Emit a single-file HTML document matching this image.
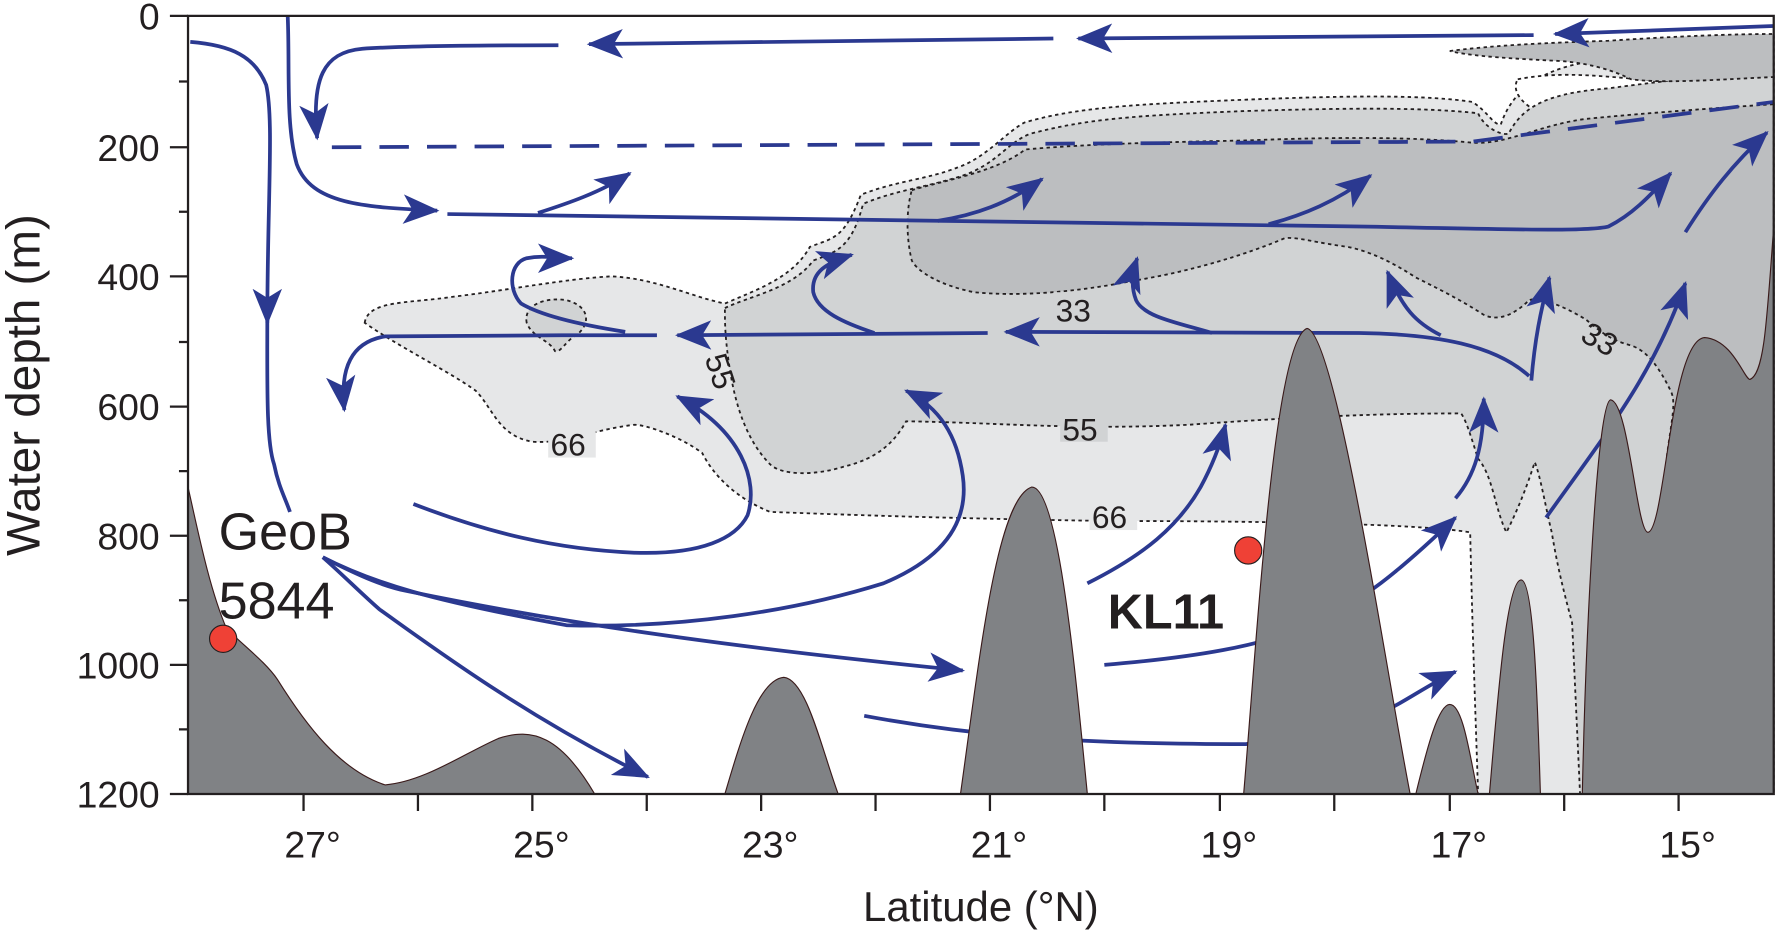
<!DOCTYPE html>
<html><head><meta charset="utf-8"><style>
html,body{margin:0;padding:0;background:#fff;}
svg{display:block;}
text{font-family:"Liberation Sans",sans-serif;fill:#231f20;}
</style></head><body>
<svg width="1776" height="931" viewBox="0 0 1568 822" preserveAspectRatio="none" xmlns="http://www.w3.org/2000/svg">
<defs>
<marker id="ah" markerUnits="userSpaceOnUse" markerWidth="34" markerHeight="26" viewBox="0 0 34 26" refX="30" refY="13" orient="auto">
<path d="M0,0 L32,13 L0,26 L8,13 Z" fill="#2b3990"/>
</marker>
</defs>
<g stroke="#231f20" stroke-width="1.6" stroke-dasharray="3,3">
<path d="M322,285 C325,265 360,268 400,262 C450,256 500,246 540,244 C580,246 610,262 640,268 C670,255 700,245 715,218 C735,210 745,212 760,172 C790,160 820,158 845,148 C870,140 890,115 905,108 C950,95 1000,92 1100,88 C1200,84 1260,84 1300,90 C1315,100 1318,110 1325,110 C1335,80 1360,62 1400,55 C1440,48 1500,36 1566,32 L1566,701 L1305,701 C1303,640 1300,560 1298,470 C1250,462 1100,460 980,460 C850,458 760,455 680,452 C650,440 630,420 620,400 C600,385 570,375 560,375 C520,380 500,392 470,390 C440,385 435,360 420,345 C400,330 350,305 322,285 Z" fill="#e6e7e8"/>
<path d="M1340,70 C1380,62 1420,68 1470,72 C1500,78 1520,90 1490,105 C1460,112 1400,110 1360,100 C1340,90 1335,78 1340,70 Z" fill="#fff"/>
<path d="M640,272 C660,262 700,255 718,230 C740,222 752,218 762,180 C790,168 820,165 850,155 C880,145 890,125 910,118 C960,105 1000,102 1100,98 C1200,95 1260,95 1305,100 C1310,112 1325,120 1332,118 C1345,92 1370,82 1420,78 C1480,70 1530,65 1566,62 L1566,701 L1395,701 L1388,550 C1380,520 1375,500 1370,470 C1365,450 1360,420 1355,408 C1348,430 1340,450 1330,470 C1320,450 1318,420 1305,405 C1300,390 1295,372 1290,365 C1200,365 1120,370 1050,375 C950,380 880,373 800,372 C790,390 775,405 745,412 C720,420 690,420 680,410 C660,390 650,360 645,330 C640,300 640,285 640,272 Z" fill="#d1d3d4"/>
<path d="M465,285 C462,270 480,262 500,265 C520,270 522,285 510,295 C500,300 495,312 490,310 C485,300 470,298 465,285 Z" fill="#d1d3d4"/>
<path d="M805,168 C830,160 880,152 905,132 C950,128 1000,126 1100,124 C1200,120 1260,122 1300,126 C1330,128 1360,110 1400,105 C1450,100 1520,95 1566,92 L1566,701 L1440,701 L1472,400 C1476,370 1480,355 1475,345 C1465,325 1455,310 1440,305 C1420,300 1410,290 1400,282 C1380,270 1360,262 1350,265 C1340,275 1325,285 1310,278 C1290,265 1270,255 1250,245 C1230,232 1210,222 1190,218 C1160,214 1150,210 1135,210 C1100,225 1050,240 1000,248 C950,258 900,262 860,258 C830,252 810,240 805,230 C800,210 800,185 805,168 Z" fill="#bcbec0"/>
<path d="M1280,45 C1320,40 1360,38 1420,36 C1480,32 1530,30 1566,30 L1566,68 C1520,70 1470,74 1440,70 C1420,60 1400,56 1380,54 C1340,52 1300,50 1280,45 Z" fill="#bcbec0"/>
</g>
<g font-size="28">
<rect x="484" y="376" width="42" height="28" fill="#e6e7e8"/><text x="486" y="402">66</text>
<rect x="936" y="362" width="42" height="28" fill="#d1d3d4"/><text x="938" y="389">55</text>
<rect x="962" y="440" width="42" height="28" fill="#e6e7e8"/><text x="964" y="466">66</text>
<rect x="930" y="258" width="42" height="28" fill="#d1d3d4"/><text x="932" y="284">33</text>
<text x="0" y="0" transform="translate(622,316) rotate(72)">55</text>
<text x="0" y="0" transform="translate(1394,300) rotate(30)">33</text>
</g>
<g fill="none" stroke="#2b3990" stroke-width="3.3">
<path d="M1566,23 L1373,30" marker-end="url(#ah)"/>
<path d="M1354,31 L952,34" marker-end="url(#ah)"/>
<path d="M930,34 L520,39" marker-end="url(#ah)"/>
<path d="M493,40 C420,40 350,41 320,43 C285,46 275,70 280,122" marker-end="url(#ah)"/>
<path d="M293,130 L1300,125 L1566,90" stroke-dasharray="26,16"/>
<path d="M168,37 C205,40 225,50 235,75 C242,105 236,180 236,285" marker-end="url(#ah)"/>
<path d="M236,280 C236,340 235,390 242,410 C246,430 252,440 256,452"/>
<path d="M254,14 C256,60 252,110 262,145 C275,180 320,183 386,186" marker-end="url(#ah)"/>
<path d="M395,189 C700,192 1000,196 1200,200 C1320,202 1400,205 1420,200 C1440,190 1455,175 1475,153" marker-end="url(#ah)"/>
<path d="M475,188 C500,180 530,170 556,153" marker-end="url(#ah)"/>
<path d="M828,195 C860,190 890,180 920,158" marker-end="url(#ah)"/>
<path d="M1120,198 C1150,190 1180,178 1210,155" marker-end="url(#ah)"/>
<path d="M1350,332 C1320,305 1270,295 1200,294 C1100,293 1000,293 888,293" marker-end="url(#ah)"/>
<path d="M872,294 L598,296" marker-end="url(#ah)"/>
<path d="M580,296 C500,296 400,296 340,297 C310,302 300,325 304,362" marker-end="url(#ah)"/>
<path d="M552,293 C520,288 480,280 460,268 C448,255 450,232 465,228 C480,225 490,228 505,228" marker-end="url(#ah)"/>
<path d="M772,294 C745,285 722,275 718,258 C716,240 730,232 752,225" marker-end="url(#ah)"/>
<path d="M1070,294 C1040,285 1010,280 1003,265 C998,252 1000,240 1004,228" marker-end="url(#ah)"/>
<path d="M1272,296 C1250,285 1238,272 1225,240" marker-end="url(#ah)"/>
<path d="M1352,336 C1355,300 1360,275 1368,245" marker-end="url(#ah)"/>
<path d="M365,445 C430,470 490,485 560,488 C620,490 650,475 660,455 C670,425 655,380 598,350" marker-end="url(#ah)"/>
<path d="M285,492 C330,515 380,530 500,552 C600,555 700,540 780,515 C840,490 855,455 850,420 C845,385 830,360 800,345" marker-end="url(#ah)"/>
<path d="M285,492 C320,510 340,518 360,522 C520,555 680,575 850,592" marker-end="url(#ah)"/>
<path d="M285,492 C300,505 320,525 335,538 C380,570 460,630 572,686" marker-end="url(#ah)"/>
<path d="M763,632 C860,650 950,657 1100,657 C1150,650 1190,640 1215,632 C1240,620 1260,605 1285,593" marker-end="url(#ah)"/>
<path d="M975,587 C1060,580 1110,570 1150,555 C1200,535 1240,500 1285,457" marker-end="url(#ah)"/>
<path d="M960,515 C1010,490 1040,465 1060,430 C1072,408 1078,390 1082,375" marker-end="url(#ah)"/>
<path d="M1285,440 C1302,420 1310,395 1310,352" marker-end="url(#ah)"/>
<path d="M1365,457 C1420,380 1460,330 1488,250" marker-end="url(#ah)"/>
<path d="M1488,205 C1510,170 1530,145 1560,117" marker-end="url(#ah)"/>
</g>
<g fill="#808285" stroke="#3a1a1a" stroke-width="1">
<path d="M166,430 C175,470 185,520 200,555 C215,570 235,585 245,600 C270,640 300,680 340,693 C375,690 410,665 440,652 C470,642 495,650 525,701 L166,701 Z"/>
<path d="M640,701 C655,650 670,600 692,598 C712,600 725,660 740,701 Z"/>
<path d="M848,701 C865,580 880,440 911,430 C935,430 950,600 960,701 Z"/>
<path d="M1098,701 C1110,560 1125,300 1154,290 C1180,295 1225,600 1245,701 Z"/>
<path d="M1250,701 C1260,660 1270,622 1280,622 C1292,622 1298,670 1305,701 Z"/>
<path d="M1315,701 C1322,620 1330,512 1343,512 C1355,512 1358,640 1360,701 Z"/>
<path d="M1397,701 C1400,560 1410,355 1422,353 C1438,355 1445,470 1455,470 C1470,468 1475,300 1505,298 C1530,300 1540,335 1545,335 C1558,330 1560,280 1566,200 L1566,701 Z"/>
</g>
<circle cx="197" cy="564" r="12" fill="#ef4136" stroke="#231f20" stroke-width="1"/>
<circle cx="1102" cy="486" r="12" fill="#ef4136" stroke="#231f20" stroke-width="1"/>
<text x="193" y="485" font-size="46">GeoB</text>
<text x="193" y="546" font-size="46">5844</text>
<text x="978" y="555" font-size="43" font-weight="bold">KL11</text>
<g stroke="#231f20" stroke-width="2" fill="none">
<path d="M166,14 L1566,14 L1566,701 L166,701 Z"/>
<path d="M150,14H166M158,72H166M150,130H166M158,187H166M150,244H166M158,302H166M150,359H166M158,416H166M150,473H166M158,530H166M150,587H166M158,644H166M150,701H166"/>
<path d="M268,701V716M369,701V716M470,701V716M571,701V716M672,701V716M773,701V716M874,701V716M975,701V716M1077,701V716M1178,701V716M1280,701V716M1381,701V716M1482,701V716"/>
</g>
<g font-size="33" text-anchor="end">
<text x="141" y="26">0</text><text x="141" y="142">200</text><text x="141" y="256">400</text><text x="141" y="371">600</text><text x="141" y="485">800</text><text x="141" y="599">1000</text><text x="141" y="713">1200</text>
</g>
<g font-size="33" text-anchor="middle">
<text x="276" y="757">27°</text><text x="478" y="757">25°</text><text x="680" y="757">23°</text><text x="882" y="757">21°</text><text x="1085" y="757">19°</text><text x="1288" y="757">17°</text><text x="1490" y="757">15°</text>
</g>
<text x="866" y="813" font-size="37" text-anchor="middle">Latitude (°N)</text>
<text x="0" y="0" font-size="42" text-anchor="middle" transform="translate(35,340) rotate(-90)">Water depth (m)</text>
</svg>
</body></html>
